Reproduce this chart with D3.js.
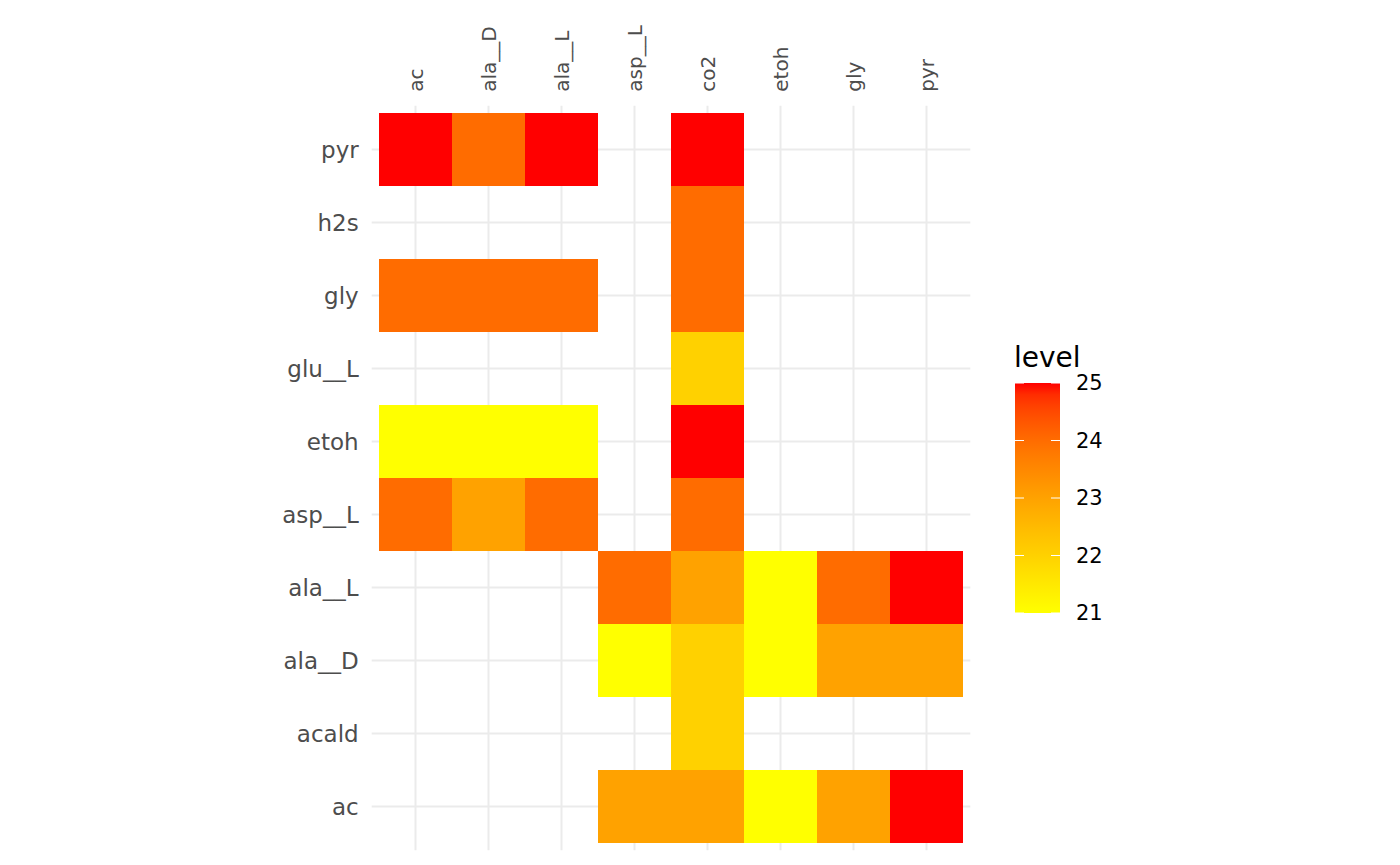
<!DOCTYPE html>
<html>
<head>
<meta charset="utf-8">
<script src="https://cdn.jsdelivr.net/npm/d3@7"></script>
<style>
  body { margin: 0; background: #fff; }
  text { font-family: "DejaVu Sans", sans-serif; }
</style>
</head>
<body>
<div class="canvas"></div>
<script>
const xCats = ['ac', 'ala__D', 'ala__L', 'asp__L', 'co2', 'etoh', 'gly', 'pyr']
const yCats = ['pyr', 'h2s', 'gly', 'glu__L', 'etoh', 'asp__L', 'ala__L', 'ala__D', 'acald', 'ac']
const legendTicks = [21, 22, 23, 24, 25]

// [row, column, level]
const cells = [
    ['pyr', 'ac', 25], ['pyr', 'ala__D', 24], ['pyr', 'ala__L', 25], ['pyr', 'co2', 25],
    ['h2s', 'co2', 24],
    ['gly', 'ac', 24], ['gly', 'ala__D', 24], ['gly', 'ala__L', 24], ['gly', 'co2', 24],
    ['glu__L', 'co2', 22],
    ['etoh', 'ac', 21], ['etoh', 'ala__D', 21], ['etoh', 'ala__L', 21], ['etoh', 'co2', 25],
    ['asp__L', 'ac', 24], ['asp__L', 'ala__D', 23], ['asp__L', 'ala__L', 24], ['asp__L', 'co2', 24],
    ['ala__L', 'asp__L', 24], ['ala__L', 'co2', 23], ['ala__L', 'etoh', 21], ['ala__L', 'gly', 24], ['ala__L', 'pyr', 25],
    ['ala__D', 'asp__L', 21], ['ala__D', 'co2', 22], ['ala__D', 'etoh', 21], ['ala__D', 'gly', 23], ['ala__D', 'pyr', 23],
    ['acald', 'co2', 22],
    ['ac', 'asp__L', 23], ['ac', 'co2', 23], ['ac', 'etoh', 21], ['ac', 'gly', 23], ['ac', 'pyr', 25]
]

const W = 1400, H = 865
const svg = d3.select('.canvas').append('svg').attr('width', W).attr('height', H)

// panel bounds (ggplot-like 0.6 unit expansion on discrete axes)
const panel = { left: 371.7, right: 970.3, top: 105.7, bottom: 850.3 }
const step = (panel.right - panel.left) / (xCats.length + 0.2)

const x = d3.scaleBand()
    .domain(xCats)
    .range([panel.left + step * 0.1, panel.right - step * 0.1])
const y = d3.scaleBand()
    .domain(yCats)
    .range([panel.top + step * 0.1, panel.bottom - step * 0.1])

const color = d3.scaleLinear()
    .domain([21, 25])
    .range(['#FFFF00', '#FF0000'])
    .interpolate(d3.interpolateLab)

const grid = svg.append('g')
grid.selectAll('.vg').data(xCats).enter().append('line')
    .attr('x1', d => x(d) + x.bandwidth() / 2)
    .attr('x2', d => x(d) + x.bandwidth() / 2)
    .attr('y1', panel.top).attr('y2', panel.bottom)
    .attr('stroke', '#EBEBEB').attr('stroke-width', 2)
grid.selectAll('.hg').data(yCats).enter().append('line')
    .attr('y1', d => y(d) + y.bandwidth() / 2)
    .attr('y2', d => y(d) + y.bandwidth() / 2)
    .attr('x1', panel.left).attr('x2', panel.right)
    .attr('stroke', '#EBEBEB').attr('stroke-width', 2)

svg.append('g').selectAll('rect').data(cells).enter().append('rect')
    .attr('x', d => x(d[1]))
    .attr('y', d => y(d[0]))
    .attr('width', x.bandwidth())
    .attr('height', y.bandwidth())
    .attr('fill', d => color(d[2]))
    .attr('shape-rendering', 'crispEdges')

// axes
const xAxis = d3.axisTop(x).tickSize(0).tickPadding(0)
const xAxisGroup = svg.append('g').attr('transform', `translate(0, ${panel.top})`).call(xAxis)
xAxisGroup.select('.domain').remove()
xAxisGroup.selectAll('text')
    .attr('transform', 'rotate(-90)')
    .attr('text-anchor', 'start')
    .attr('x', 14).attr('y', 0).attr('dy', '0.35em')
    .attr('fill', '#4D4D4D').attr('font-size', 20)

const yAxis = d3.axisLeft(y).tickSize(0).tickPadding(0)
const yAxisGroup = svg.append('g').attr('transform', `translate(${panel.left}, 0)`).call(yAxis)
yAxisGroup.select('.domain').remove()
yAxisGroup.selectAll('text')
    .attr('x', -13).attr('dy', '0.35em')
    .attr('fill', '#4D4D4D').attr('font-size', 23)

// legend
const lg = svg.append('g')
const barX = 1015, barW = 45, barTop = 383, barBot = 613
const ly = d3.scaleLinear().domain([21, 25]).range([barBot, barTop])

const defs = svg.append('defs')
const grad = defs.append('linearGradient').attr('id', 'lvl')
    .attr('x1', 0).attr('x2', 0).attr('y1', 1).attr('y2', 0)
d3.range(0, 1.0001, 0.05).forEach(t => {
    grad.append('stop').attr('offset', t).attr('stop-color', color(21 + 4 * t))
})
lg.append('rect')
    .attr('x', barX).attr('y', barTop)
    .attr('width', barW).attr('height', barBot - barTop)
    .attr('fill', 'url(#lvl)')

lg.selectAll('.tk').data(legendTicks).enter().append('g').each(function(d) {
    const g = d3.select(this)
    g.append('line').attr('x1', barX).attr('x2', barX + 9)
        .attr('y1', ly(d)).attr('y2', ly(d)).attr('stroke', '#fff').attr('stroke-width', 1)
    g.append('line').attr('x1', barX + barW - 9).attr('x2', barX + barW)
        .attr('y1', ly(d)).attr('y2', ly(d)).attr('stroke', '#fff').attr('stroke-width', 1)
    g.append('text').attr('x', barX + barW + 16).attr('y', ly(d)).attr('dy', '0.35em')
        .attr('font-size', 21).attr('fill', '#000').text(d)
})

lg.append('text').attr('x', barX - 1).attr('y', 367)
    .attr('font-size', 28).attr('fill', '#000').text('level')
</script>
</body>
</html>
